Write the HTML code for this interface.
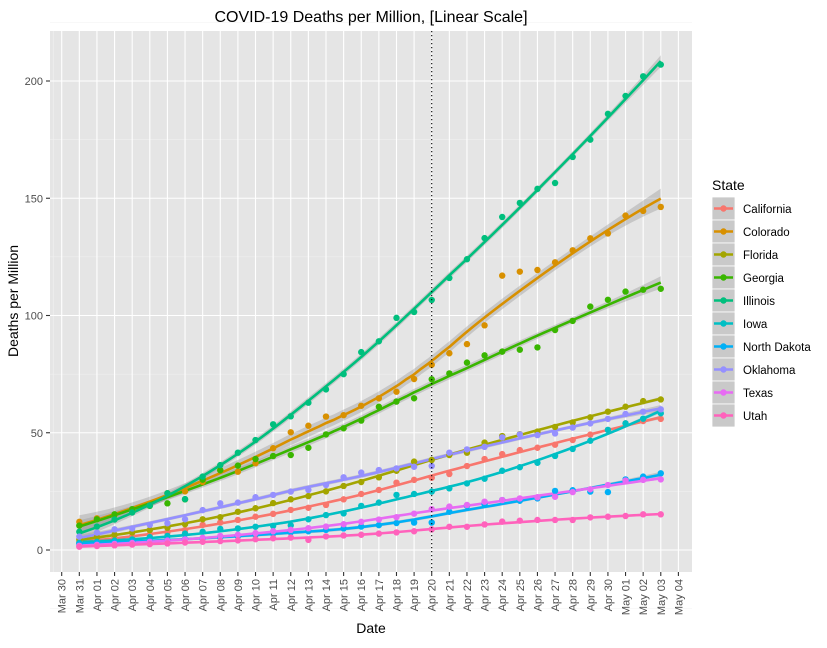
<!DOCTYPE html>
<html><head><meta charset="utf-8">
<style>
body{margin:0;background:#fff;}
svg text{font-family:"Liberation Sans",Arial,sans-serif;}
</style></head>
<body>
<svg id="chart" width="827" height="643" viewBox="0 0 827 643" xmlns="http://www.w3.org/2000/svg">
<rect x="0" y="0" width="827" height="643" fill="#fff"/>
<rect x="50" y="31" width="642" height="541" fill="#e5e5e5"/>
<g id="grid"></g>
<g id="ribbons"></g>
<g id="lines"></g>
<g id="points"></g>
<g id="axes"></g>
<text x="371" y="22" text-anchor="middle" font-size="16" fill="#000">COVID-19 Deaths per Million, [Linear Scale]</text>
<text x="371" y="633" text-anchor="middle" font-size="14" fill="#000">Date</text>
<text transform="translate(18,301) rotate(-90)" text-anchor="middle" font-size="14" fill="#000">Deaths per Million</text>
<g id="legend"></g>
</svg>
<script>
const tickLabels=["Mar 30","Mar 31","Apr 01","Apr 02","Apr 03","Apr 04","Apr 05","Apr 06","Apr 07","Apr 08","Apr 09","Apr 10","Apr 11","Apr 12","Apr 13","Apr 14","Apr 15","Apr 16","Apr 17","Apr 18","Apr 19","Apr 20","Apr 21","Apr 22","Apr 23","Apr 24","Apr 25","Apr 26","Apr 27","Apr 28","Apr 29","Apr 30","May 01","May 02","May 03","May 04"];
const yTicks=[0,50,100,150,200];
const states=["California","Colorado","Florida","Georgia","Illinois","Iowa","North Dakota","Oklahoma","Texas","Utah"];
const colors=["#F8766D","#D89000","#A3A500","#39B600","#00BF7D","#00BFC4","#00B0F6","#9590FF","#E76BF3","#FF62BC"];
// values per day, Mar 31 .. May 03
const california=[3.5,4.2,5,5.8,6.6,7.5,8.5,10.7,11.7,12.8,14.2,15.4,17.1,18,19.2,21.6,23.9,25.6,28.7,29.9,30.8,32.4,35.8,38.8,40.9,42.6,43.6,44.9,46.9,49.2,51.2,54,55,55.9];
const colorado=[12,13.5,15,17,19,24.2,25,29,34,33.4,37,43.4,50.2,53,56.9,57.5,61.5,64.7,67.5,72.9,79,83.9,87.8,95.8,117,118.7,119.4,122.7,127.8,132.9,135,142.6,144.6,146.3];
const florida=[4.5,5.5,6.5,7.5,8.5,9.5,11,13.1,14,16.3,17.8,20,21.6,23,25,27.3,29,31,33.8,37.7,38.4,40.5,41.5,45.8,48.6,49.4,50.5,52.5,54.4,56.6,59,61.1,63.5,64.2];
const georgia=[10.4,13.1,15.2,17.4,18.8,19.9,21.6,30,34,36,38.8,40.1,40.5,43.6,49.3,51.9,55.2,61.1,63.3,64.7,72.8,75.3,79.9,83,84.6,85.4,86.4,93.8,97.7,103.8,106.7,110.2,111,111.4];
const illinois=[7.8,10,13,16,19,24.2,21.7,31.3,36.2,41.5,46.9,53.6,57,62.8,68.5,75,84.4,89,99,101.5,106.6,116,124,133,142,148,154,156.5,167.6,175,186,193.6,202,207];
const iowa=[3,3.5,4,4.5,5.5,6,7,7.8,9,9.2,9.9,10.3,10.5,13.1,14.9,15.6,18.8,20.2,23.5,23.9,24.9,26.3,28.4,30.4,33.8,35.3,37.2,40.1,43.1,46.6,51.2,54,56,58.3];
const northDakota=[2.5,3,3.3,3.6,4,4.3,4.7,5,5.5,5.9,6.5,7,7.5,8,8.6,9.2,10,10.6,11.5,11.7,11.7,16.3,18.8,19.5,21.3,21,22,25.2,25.5,24.9,24.7,30.1,31.3,32.7];
const oklahoma=[5.7,7.4,8.8,9.2,10.7,11.4,13.1,17,19.9,20.2,22.5,23.5,24.9,25.6,27.7,31,33,34.1,34.8,35.5,35.8,41.5,42.9,44,48,49.3,49,49.7,52.2,54,55.9,58,59,60];
const texas=[1.8,2.2,2.6,3,3.5,4,4.5,5.2,6,6.5,7.2,8,8.6,9.3,10,11,12,13,14,15.5,17.4,18.5,19.2,20.6,21.3,22,22.5,22.7,24.7,25.9,27.7,29.6,29.9,30.1];
const utah=[1.4,1.7,2,2.3,2.5,2.8,3.2,3.5,3.8,4.1,4.6,5,5.3,4.3,5.8,6.2,6.5,7,7.5,8,8.8,9.9,9.9,10.9,12.1,12.5,12.8,12.8,12.8,13.9,14.2,14.5,15.2,15.2];
const series=[california,colorado,florida,georgia,illinois,iowa,northDakota,oklahoma,texas,utah];
const markerDay=21; // Apr 20 (index into tickLabels)

const NS="http://www.w3.org/2000/svg";
const X0=61.7, DX=17.62, Y0=550, KY=2.345;
function xs(d){return X0+DX*d;}
function ys(v){return Y0-KY*v;}
function mk(tag,attrs,parent){const e=document.createElementNS(NS,tag);for(const k in attrs)e.setAttribute(k,attrs[k]);parent.appendChild(e);return e;}

const grid=document.getElementById('grid');
for(let i=0;i<yTicks.length;i++){
  const v=yTicks[i]+25;
  const l=mk('line',{x1:50,x2:692,y1:ys(v),y2:ys(v),stroke:'#f2f2f2','stroke-width':0.6},grid);
  
  
}
const lm=mk('line',{x1:50,x2:692,y1:ys(-25),y2:ys(-25),stroke:'#f2f2f2','stroke-width':0.6},grid);


const lx=mk('line',{x1:53.2,x2:53.2,y1:31,y2:572,stroke:'#f2f2f2','stroke-width':0.6},grid);


yTicks.forEach(v=>{
  const l=mk('line',{x1:50,x2:692,y1:ys(v),y2:ys(v),stroke:'#fff','stroke-width':1.1},grid);
  
  
});
tickLabels.forEach((t,i)=>{
  const l=mk('line',{x1:xs(i),x2:xs(i),y1:31,y2:572,stroke:'#fff','stroke-width':1.1},grid);
  
  
});

const axes=document.getElementById('axes');
yTicks.forEach(v=>{
  const t=mk('line',{x1:46,x2:50,y1:ys(v),y2:ys(v),stroke:'#333','stroke-width':1.1},axes);
  
  
  const tx=mk('text',{x:43,y:ys(v)+4,'text-anchor':'end','font-size':11,fill:'#4d4d4d'},axes);
  tx.textContent=v;
  
  
});
tickLabels.forEach((lab,i)=>{
  const t=mk('line',{x1:xs(i),x2:xs(i),y1:572,y2:576,stroke:'#333','stroke-width':1.1},axes);
  
  
  const tx=mk('text',{transform:`translate(${xs(i)+4},579) rotate(-90)`,'text-anchor':'end','font-size':11,fill:'#4d4d4d'},axes);
  tx.textContent=lab;
  
  
});

function loessAt(xsArr,yArr,x0,span){
  const n=xsArr.length,q=Math.floor(span*n);
  const dists=xsArr.map(x=>Math.abs(x-x0)).sort((a,b)=>a-b);
  const h=Math.max(dists[q-1],1e-9)*1.0001;
  const w=xsArr.map(x=>{const u=Math.abs(x-x0)/h;return u<1?Math.pow(1-u*u*u,3):0;});
  const M=[[0,0,0],[0,0,0],[0,0,0]];
  for(let i=0;i<n;i++){const r=[1,xsArr[i]-x0,(xsArr[i]-x0)**2];for(let a=0;a<3;a++)for(let b=0;b<3;b++)M[a][b]+=w[i]*r[a]*r[b];}
  const inv=inv3(M);
  const l=[];let fit=0;
  for(let i=0;i<n;i++){const r=[1,xsArr[i]-x0,(xsArr[i]-x0)**2];let s=0;for(let b=0;b<3;b++)s+=inv[0][b]*r[b];l.push(s*w[i]);fit+=s*w[i]*yArr[i];}
  return {fit,l};
}
function inv3(m){
  const [a,b,c]=m[0],[d,e,f]=m[1],[g,h,k]=m[2];
  const A=e*k-f*h,B=-(d*k-f*g),C=d*h-e*g;
  const det=a*A+b*B+c*C;
  return [[A/det,-(b*k-c*h)/det,(b*f-c*e)/det],[B/det,(a*k-c*g)/det,-(a*f-c*d)/det],[C/det,-(a*h-b*g)/det,(a*e-b*d)/det]];
}

const rib=document.getElementById('ribbons'),lines=document.getElementById('lines'),pts=document.getElementById('points');
series.forEach((vals,si)=>{
  const days=vals.map((v,i)=>i+1);
  let rss=0,trace=0;
  days.forEach((d,i)=>{const r=loessAt(days,vals,d,0.75);rss+=(vals[i]-r.fit)**2;trace+=r.l[i];});
  const sigma=Math.sqrt(rss/Math.max(vals.length-trace,1));
  const up=[],lo=[],mid=[];
  for(let k=0;k<=80;k++){
    const d=1+(vals.length-1)*k/80;
    const r=loessAt(days,vals,d,0.75);
    const se=sigma*Math.sqrt(r.l.reduce((s,v)=>s+v*v,0));
    mid.push([xs(d),ys(r.fit)]);up.push([xs(d),ys(r.fit+2*se)]);lo.push([xs(d),ys(r.fit-2*se)]);
  }
  const rp=mk('path',{d:'M'+up.map(p=>p.join(',')).join('L')+'L'+lo.reverse().map(p=>p.join(',')).join('L')+'Z',fill:'#999999','fill-opacity':0.4},rib);
  
  
  const lp=mk('path',{d:'M'+mid.map(p=>p.join(',')).join('L'),fill:'none',stroke:colors[si],'stroke-width':2.6},lines);
  
  
  vals.forEach((v,i)=>{
    const c=mk('circle',{cx:xs(i+1),cy:ys(v),r:3.2,fill:colors[si]},pts);
    
    
  });
});

const vl=mk('line',{x1:xs(markerDay),x2:xs(markerDay),y1:31,y2:572,stroke:'#000','stroke-width':1.1,'stroke-dasharray':'1.2,2.8'},pts);



const lg=document.getElementById('legend');
const lt=mk('text',{x:712,y:190,'font-size':14,fill:'#000'},lg);
lt.textContent='State';


states.forEach((s,i)=>{
  const y=197+i*23;
  const g=mk('g',{},lg);
  
  
  mk('rect',{x:712,y:y,width:23,height:23,fill:'#c9c9c9',stroke:'#fff','stroke-width':0.8},g);
  mk('line',{x1:714,x2:733,y1:y+11.5,y2:y+11.5,stroke:colors[i],'stroke-width':2.6},g);
  mk('circle',{cx:723.5,cy:y+11.5,r:3.2,fill:colors[i]},g);
  const t=mk('text',{x:743,y:y+16,'font-size':11.5,fill:'#000'},g);
  t.textContent=s;
});
</script>
</body></html>
